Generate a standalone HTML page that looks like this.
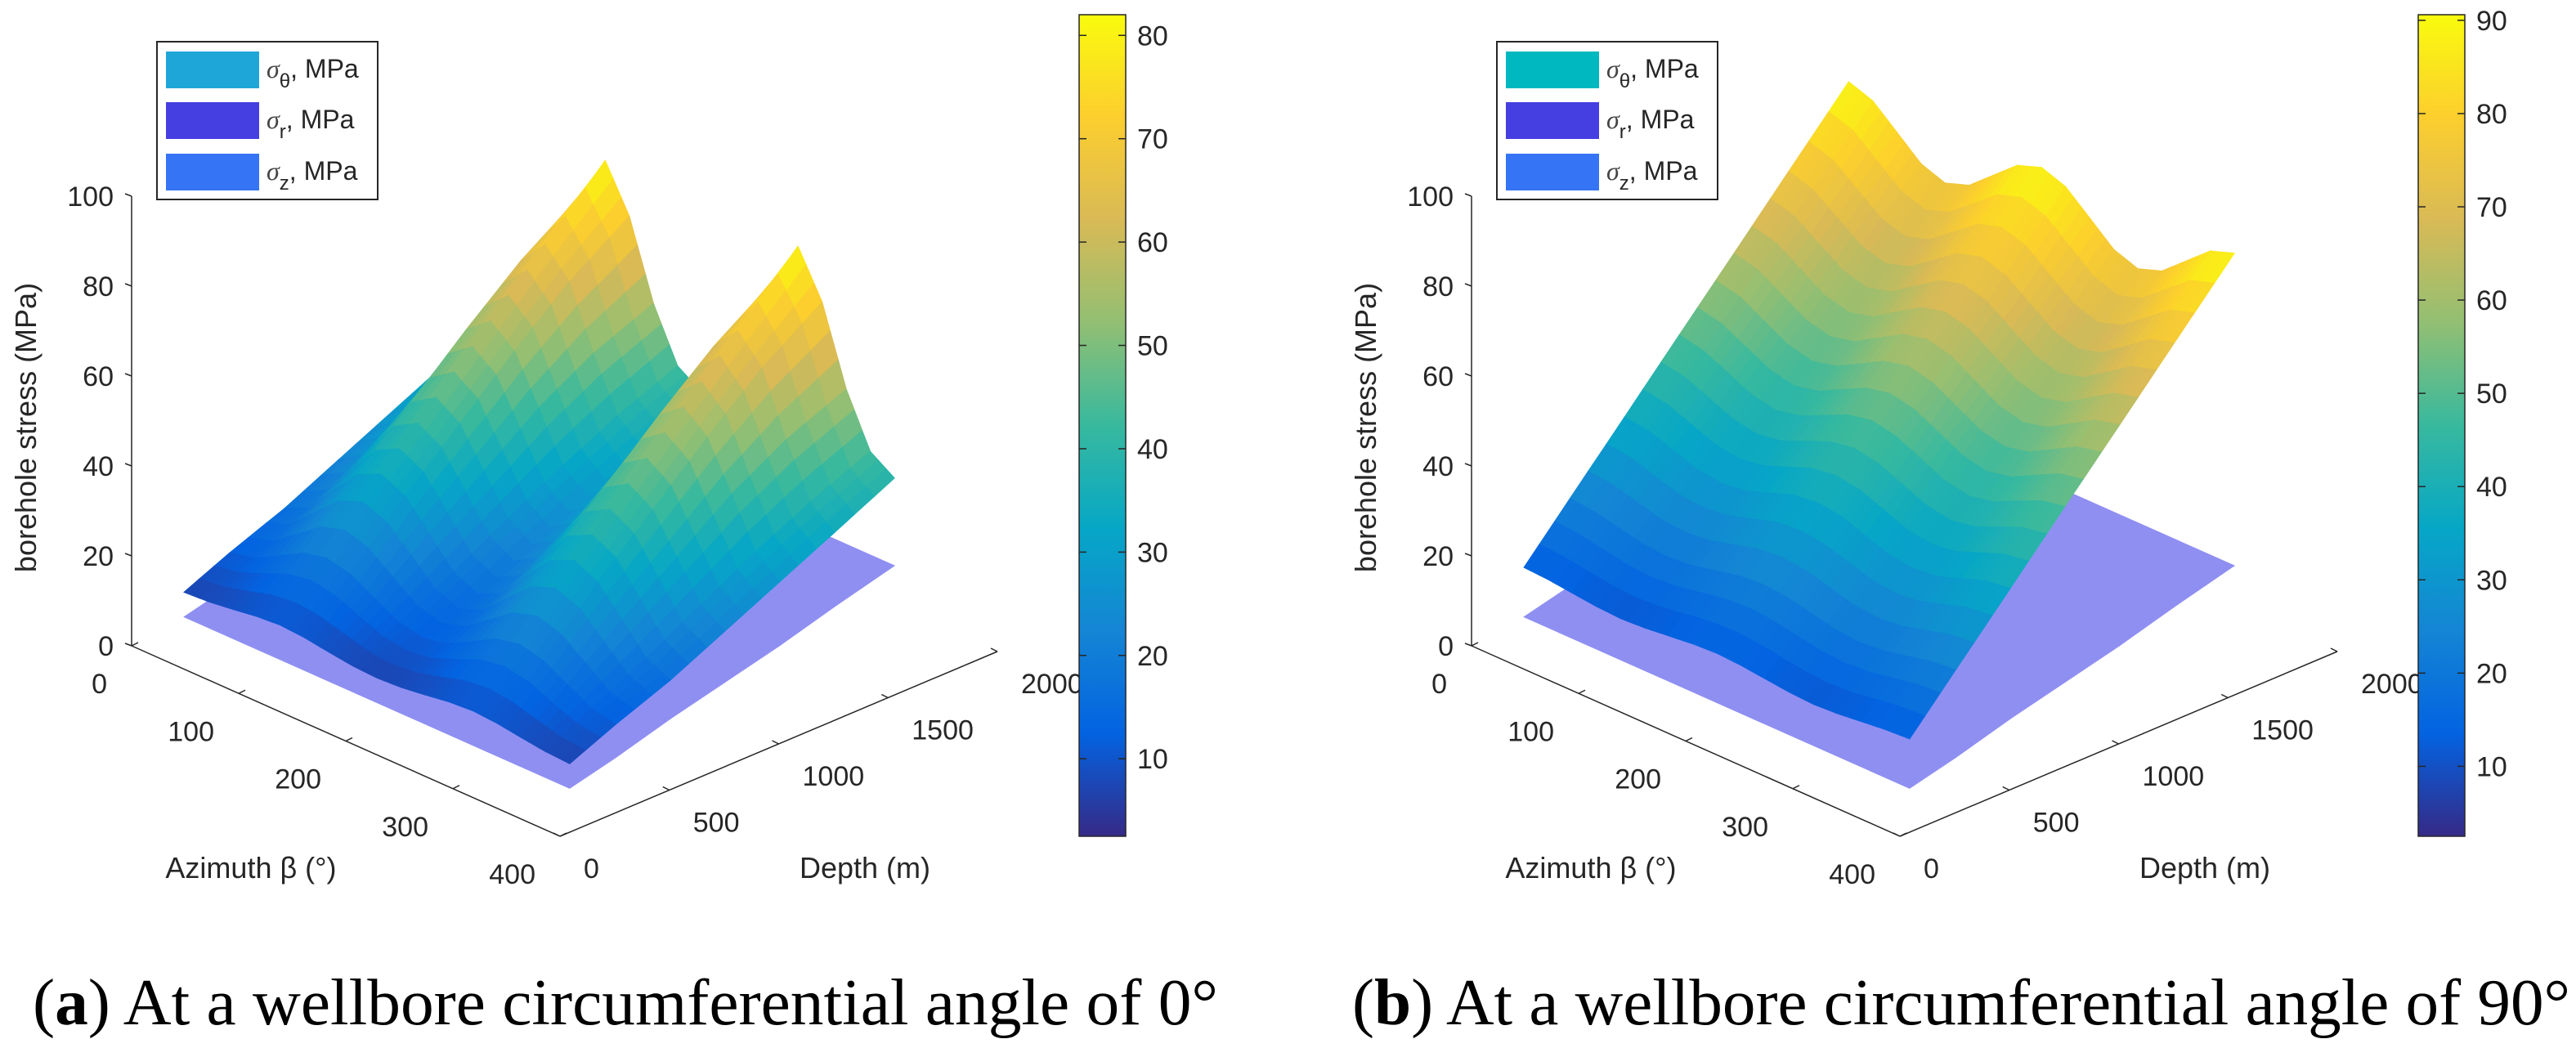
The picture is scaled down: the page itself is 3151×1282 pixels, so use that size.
<!DOCTYPE html>
<html><head><meta charset="utf-8">
<style>
html,body{margin:0;padding:0;background:#fff;}
svg{display:block;font-family:"Liberation Sans",sans-serif;}
</style></head>
<body>
<svg id="fig" width="3151" height="1282" viewBox="0 0 3151 1282" xmlns="http://www.w3.org/2000/svg">
<defs>
<linearGradient id="parula" x1="0" y1="1" x2="0" y2="0">
<stop offset="0" stop-color="#352A87"/><stop offset="0.125" stop-color="#0363E1"/><stop offset="0.25" stop-color="#1485D4"/><stop offset="0.375" stop-color="#06A7C6"/><stop offset="0.5" stop-color="#38B99E"/><stop offset="0.625" stop-color="#92BF73"/><stop offset="0.75" stop-color="#D9BA56"/><stop offset="0.875" stop-color="#FCCE2E"/><stop offset="1" stop-color="#F9FB0E"/>
</linearGradient>
</defs>
<g id="panelA"></g>
<g id="panelB"></g>
<text x="40" y="1253" font-family="'Liberation Serif',serif" font-size="80" textLength="1450" lengthAdjust="spacingAndGlyphs">(<tspan font-weight="bold">a</tspan>) At a wellbore circumferential angle of 0°</text>
<text x="1654" y="1253" font-family="'Liberation Serif',serif" font-size="80" textLength="1490" lengthAdjust="spacingAndGlyphs">(<tspan font-weight="bold">b</tspan>) At a wellbore circumferential angle of 90°</text>
</svg>
<script>
// ---- data ----
const azimuths = [0,22.5,45,67.5,90,112.5,135,157.5,180,202.5,225,247.5,270,292.5,315,337.5,360];
const depths = [240,450,700,950,1200,1450,1725];
const sigmaThetaA = [
 [7.0,7.3,8.0,8.8,9.2,8.8,8.0,7.3,7.0,7.3,8.0,8.8,9.2,8.8,8.0,7.3,7.0],
 [11.5,12.6,15.5,18.5,19.8,18.5,15.5,12.6,11.5,12.6,15.5,18.5,19.7,18.4,15.4,12.5,11.4],
 [16.2,18.7,24.8,30.8,33.3,30.8,24.8,18.7,16.2,18.7,24.8,30.8,33.2,30.7,24.7,18.6,16.1],
 [22.0,25.4,33.6,41.8,45.2,41.8,33.6,25.4,22.0,25.4,33.6,41.8,45.1,41.7,33.5,25.3,21.9],
 [27.8,32.1,42.5,52.8,57.1,52.8,42.5,32.1,27.8,32.1,42.5,52.8,57.0,52.7,42.4,32.0,27.7],
 [33.6,38.0,49.5,63.0,69.0,63.0,49.5,38.0,33.6,38.0,49.5,63.0,68.9,62.9,49.4,37.9,33.5],
 [40,43.5,55,72,82,72,55,43.5,40,43.5,55,72,82,72,55,43.5,40]
];
const sigmaThetaB = [
 [12.5,12.2,11.6,11.0,10.7,11.0,11.6,12.2,12.5,12.2,11.6,11.0,10.7,11.0,11.6,12.2,12.5],
 [23.5,23.0,21.8,20.6,20.1,20.6,21.8,23.0,23.5,23.0,21.8,20.6,20.1,20.6,21.8,23.0,23.5],
 [36.5,35.8,33.9,32.0,31.3,32.0,33.9,35.8,36.5,35.8,33.9,32.0,31.3,32.0,33.9,35.8,36.5],
 [49.6,48.5,46.0,43.5,42.4,43.5,46.0,48.5,49.6,48.5,46.0,43.5,42.4,43.5,46.0,48.5,49.6],
 [62.6,61.3,58.1,54.9,53.6,54.9,58.1,61.3,62.6,61.3,58.1,54.9,53.6,54.9,58.1,61.3,62.6],
 [75.7,74.1,70.2,66.4,64.8,66.4,70.2,74.1,75.7,74.1,70.2,66.4,64.8,66.4,70.2,74.1,75.7],
 [90,88.1,83.5,78.9,77,78.9,83.5,88.1,90,88.1,83.5,78.9,77,78.9,83.5,88.1,90]
];
const sigmaZ = [1.5,4,7.5,10.5,13.5,17,20.5];
const climA = [2.5,82];
const climB = [2.5,90.6];
const zTicks = [0,20,40,60,80,100];
const azTicks = [0,100,200,300,400];
const depthTicks = [0,500,1000,1500,2000];
const cbTicksA = [10,20,30,40,50,60,70,80];
const cbTicksB = [10,20,30,40,50,60,70,80,90];

const NS = "http://www.w3.org/2000/svg";
const parulaStops = [[53,42,135],[3,99,225],[20,133,212],[6,167,198],[56,185,158],[146,191,115],[217,186,86],[252,206,46],[249,251,14]];
function parula(t){
  t=Math.max(0,Math.min(1,t));
  const s=t*(parulaStops.length-1); const i=Math.min(Math.floor(s),parulaStops.length-2); const f=s-i;
  const a=parulaStops[i], b=parulaStops[i+1];
  return "rgb("+[0,1,2].map(k=>Math.round(a[k]+(b[k]-a[k])*f)).join(",")+")";
}
function mk(tag, attrs, parent){
  const e=document.createElementNS(NS,tag);
  for(const k in attrs) e.setAttribute(k,attrs[k]);
  parent.appendChild(e); return e;
}

function drawPanel(g, ox, cbx, grid, clim, cbTicks, thetaColor){
  const P=(a,d,z)=>[ox+1.31*a+0.2675*d, 790+0.5825*a-0.113*d-5.5*z];
  const axes=document.createElementNS(NS,'g');
  
  
  g.appendChild(axes);
  const p0=P(0,0,0), pTop=P(0,0,100), pA=P(400,0,0), pD=P(400,2000,0);
  mk('line',{x1:p0[0],y1:p0[1],x2:pTop[0],y2:pTop[1],stroke:'#262626','stroke-width':1.5},axes);
  mk('line',{x1:p0[0],y1:p0[1],x2:pA[0],y2:pA[1],stroke:'#262626','stroke-width':1.5},axes);
  mk('line',{x1:pA[0],y1:pA[1],x2:pD[0],y2:pD[1],stroke:'#262626','stroke-width':1.5},axes);
  zTicks.forEach(v=>{
    const p=P(0,0,v);
    mk('line',{x1:p[0],y1:p[1],x2:p[0]-8,y2:p[1]-3,stroke:'#262626','stroke-width':1.5},axes);
    const t=mk('text',{x:p[0]-22,y:p[1]+12,'text-anchor':'end','font-size':34,fill:'#262626'},axes);
    
    
    t.textContent=v;
  });
  azTicks.forEach(v=>{
    const p=P(v,0,0);
    mk('line',{x1:p[0],y1:p[1],x2:p[0]+8,y2:p[1]-4,stroke:'#262626','stroke-width':1.5},axes);
    const t=mk('text',{x:p[0]-30,y:p[1]+58,'text-anchor':'end','font-size':34,fill:'#262626'},axes);
    
    
    t.textContent=v;
  });
  depthTicks.forEach(v=>{
    const p=P(400,v,0);
    mk('line',{x1:p[0],y1:p[1],x2:p[0]-8,y2:p[1]-4,stroke:'#262626','stroke-width':1.5},axes);
    const t=mk('text',{x:p[0]+29,y:p[1]+51,'font-size':34,fill:'#262626'},axes);
    
    
    t.textContent=v;
  });
  let t=mk('text',{x:ox+146,y:1074,'text-anchor':'middle','font-size':36,fill:'#262626'},axes);
  
  
  t.textContent='Azimuth β (°)';
  t=mk('text',{x:ox+897,y:1074,'text-anchor':'middle','font-size':36,fill:'#262626'},axes);
  
  
  t.textContent='Depth (m)';
  t=mk('text',{x:0,y:0,'text-anchor':'middle','font-size':36,fill:'#262626',transform:'translate('+(ox-117)+',523) rotate(-90)'},axes);
  
  
  t.textContent='borehole stress (MPa)';

  const surf=document.createElementNS(NS,'g');
  
  
  g.appendChild(surf);
  for(let r=0;r<depths.length-1;r++){
    const pts=[P(azimuths[0],depths[r],sigmaZ[r]),P(azimuths[azimuths.length-1],depths[r],sigmaZ[r]),P(azimuths[azimuths.length-1],depths[r+1],sigmaZ[r+1]),P(azimuths[0],depths[r+1],sigmaZ[r+1])];
    const q=mk('polygon',{points:pts.map(p=>p.join(',')).join(' '),fill:'#8f8ff2',stroke:'#8f8ff2','stroke-width':1},surf);
    
    
  }
  const N=3, quads=[];
  const val=(r,c,u,v)=>{
    const a=grid[r][c],b=grid[r][c+1],cc=grid[r+1][c],d=grid[r+1][c+1];
    return a*(1-u)*(1-v)+b*u*(1-v)+cc*(1-u)*v+d*u*v;
  };
  for(let r=0;r<depths.length-1;r++) for(let c=0;c<azimuths.length-1;c++) for(let i=0;i<N;i++) for(let j=0;j<N;j++){
    const u0=j/N,u1=(j+1)/N,v0=i/N,v1=(i+1)/N;
    const A=(u)=>azimuths[c]+(azimuths[c+1]-azimuths[c])*u;
    const D=(v)=>depths[r]+(depths[r+1]-depths[r])*v;
    const z00=val(r,c,u0,v0),z10=val(r,c,u1,v0),z11=val(r,c,u1,v1),z01=val(r,c,u0,v1);
    const pts=[P(A(u0),D(v0),z00),P(A(u1),D(v0),z10),P(A(u1),D(v1),z11),P(A(u0),D(v1),z01)];
    const am=(A(u0)+A(u1))/2, dm=(D(v0)+D(v1))/2;
    quads.push({pts, z:(z00+z10+z11+z01)/4, key: am/400 - dm/2000});
  }
  quads.sort((a,b)=>a.key-b.key);
  quads.forEach(q=>{
    const col=parula((q.z-clim[0])/(clim[1]-clim[0]));
    const e=mk('polygon',{points:q.pts.map(p=>p[0].toFixed(1)+','+p[1].toFixed(1)).join(' '),fill:col,stroke:col,'stroke-width':1.2},surf);
    
    
  });

  const lg=document.createElementNS(NS,'g');
  
  
  g.appendChild(lg);
  const lx=ox+31;
  mk('rect',{x:lx,y:51,width:270,height:193,fill:'#fff',stroke:'#262626','stroke-width':2},lg);
  const entries=[[thetaColor,'θ',63],['#453ee0','r',125],['#3574f5','z',188]];
  entries.forEach(en=>{
    const s=mk('rect',{x:lx+11,y:en[2],width:114,height:45,fill:en[0]},lg);
    
    
    const tx=mk('text',{x:lx+134,y:en[2]+32,'font-size':32,fill:'#262626'},lg);
    
    
    tx.innerHTML='<tspan font-family="Liberation Serif,serif" font-style="italic" font-size="32" fill="#444">σ</tspan><tspan dy="12" font-size="24">'+en[1]+'</tspan><tspan dy="-12" font-size="32">, MPa</tspan>';
  });

  const cb=document.createElementNS(NS,'g');
  
  
  g.appendChild(cb);
  const cy0=18, cy1=1023;
  mk('rect',{x:cbx,y:cy0,width:57,height:cy1-cy0,fill:'url(#parula)',stroke:'#262626','stroke-width':1.5},cb);
  cbTicks.forEach(v=>{
    const y=cy1-(v-clim[0])/(clim[1]-clim[0])*(cy1-cy0);
    mk('line',{x1:cbx+57,y1:y,x2:cbx+48,y2:y,stroke:'#262626','stroke-width':1.5},cb);
    mk('line',{x1:cbx,y1:y,x2:cbx+9,y2:y,stroke:'#262626','stroke-width':1.5},cb);
    const tt=mk('text',{x:cbx+71,y:y+12,'font-size':34,fill:'#262626'},cb);
    
    
    tt.textContent=v;
  });
}
drawPanel(document.getElementById('panelA'),161,1320,sigmaThetaA,climA,cbTicksA,'#1fa6d8');
drawPanel(document.getElementById('panelB'),1800,2958,sigmaThetaB,climB,cbTicksB,'#00b8c0');
</script>
</body></html>
